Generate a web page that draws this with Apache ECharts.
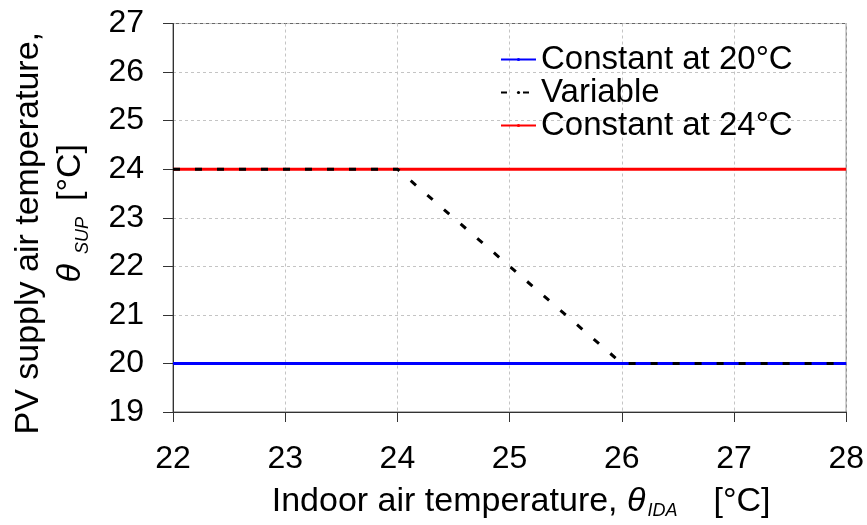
<!DOCTYPE html>
<html>
<head>
<meta charset="utf-8">
<script src="https://cdn.jsdelivr.net/npm/echarts@6/dist/echarts.min.js"></script>
<style>
  html, body { margin: 0; padding: 0; background: #fff; }
  #chart { width: 867px; height: 525px; }
</style>
</head>
<body>
<div id="chart"></div>
<script>
// indoor air temperature (x) vs supply air temperature (y)
const seriesNames = ['Constant at 20°C', 'Variable', 'Constant at 24°C']
const constant20 = [[22, 20], [28, 20]]
const variable = [[22, 24], [24, 24], [26, 20], [28, 20]]
const constant24 = [[22, 24], [28, 24]]
const xTicks = [22, 23, 24, 25, 26, 27, 28]
const yTicks = [19, 20, 21, 22, 23, 24, 25, 26, 27]

const font = 'Liberation Sans, Arial, sans-serif'
const chart = echarts.init(document.getElementById('chart'))

const option = {
  backgroundColor: '#fff',
  animation: false,
  textStyle: { fontFamily: font },
  grid: {
    left: 167, right: 19, top: 23, bottom: 109,
    show: true, borderColor: '#666', borderWidth: 1
  },
  legend: {
    data: [
      seriesNames[0],
      { name: seriesNames[1], lineStyle: { type: [6, 16] } },
      seriesNames[2]
    ],
    orient: 'vertical',
    left: 500, top: 43,
    padding: 0,
    itemGap: 0,
    itemWidth: 35,
    itemHeight: 4,
    textStyle: { fontSize: 33, color: '#000', fontFamily: font, lineHeight: 27.5 }
  },
  xAxis: {
    type: 'value',
    min: xTicks[0], max: xTicks[xTicks.length - 1], interval: 1,
    name: '{a|Indoor air temperature, }{th|θ}{sub|IDA}{u|[°C]}',
    nameLocation: 'middle',
    nameGap: 72,
    nameTextStyle: {
      fontSize: 34, color: '#000', fontFamily: font, lineHeight: 36,
      rich: {
        a: { fontSize: 34, lineHeight: 36, padding: [0, 0, 0, 23] },
        th: { fontSize: 34, lineHeight: 36, fontStyle: 'italic', padding: [0, 2, 0, 0] },
        sub: { fontSize: 18, lineHeight: 19, fontStyle: 'italic', verticalAlign: 'bottom' },
        u: { fontSize: 34, lineHeight: 36, padding: [0, 0, 0, 36] }
      }
    },
    axisLine: { lineStyle: { color: '#333', width: 1 } },
    axisTick: { length: 10, lineStyle: { color: '#333' } },
    axisLabel: { fontSize: 32, color: '#000', margin: 31, fontFamily: font },
    splitLine: { lineStyle: { color: '#c4c4c4', type: [3, 3], width: 1 } }
  },
  yAxis: {
    type: 'value',
    min: yTicks[0], max: yTicks[yTicks.length - 1], interval: 1,
    name: '{a|PV supply air temperature,}\n{th|θ}{sub|SUP}{u|[°C]}',
    nameLocation: 'middle',
    nameGap: 81,
    nameTextStyle: {
      fontSize: 34, color: '#000', fontFamily: font, lineHeight: 42,
      rich: {
        a: { fontSize: 34, lineHeight: 42, padding: [0, 31, 0, 0] },
        th: { fontSize: 34, lineHeight: 42, fontStyle: 'italic', padding: [0, 10, 0, 9] },
        sub: { fontSize: 18, lineHeight: 25, fontStyle: 'italic', verticalAlign: 'bottom' },
        u: { fontSize: 34, lineHeight: 42, padding: [0, 0, 0, 16] }
      }
    },
    axisLine: { show: true, lineStyle: { color: '#333', width: 1 } },
    axisTick: { show: true, length: 10, lineStyle: { color: '#333' } },
    axisLabel: { fontSize: 32, color: '#000', margin: 29, fontFamily: font },
    splitLine: { lineStyle: { color: '#c4c4c4', type: [3, 3], width: 1 } }
  },
  series: [
    {
      name: seriesNames[0], type: 'line', data: constant20,
      symbol: 'none', z: 2,
      lineStyle: { color: '#0000ff', width: 3 }, itemStyle: { color: '#0000ff' }
    },
    {
      name: seriesNames[1], type: 'line', data: variable,
      symbol: 'none', z: 4,
      lineStyle: { color: '#000', width: 3, type: [7, 15] }, itemStyle: { color: '#000' }
    },
    {
      name: seriesNames[2], type: 'line', data: constant24,
      symbol: 'none', z: 3,
      lineStyle: { color: '#ff0000', width: 3 }, itemStyle: { color: '#ff0000' }
    }
  ]
}

chart.setOption(option)
window.addEventListener('resize', () => chart.resize())
</script>
</body>
</html>
